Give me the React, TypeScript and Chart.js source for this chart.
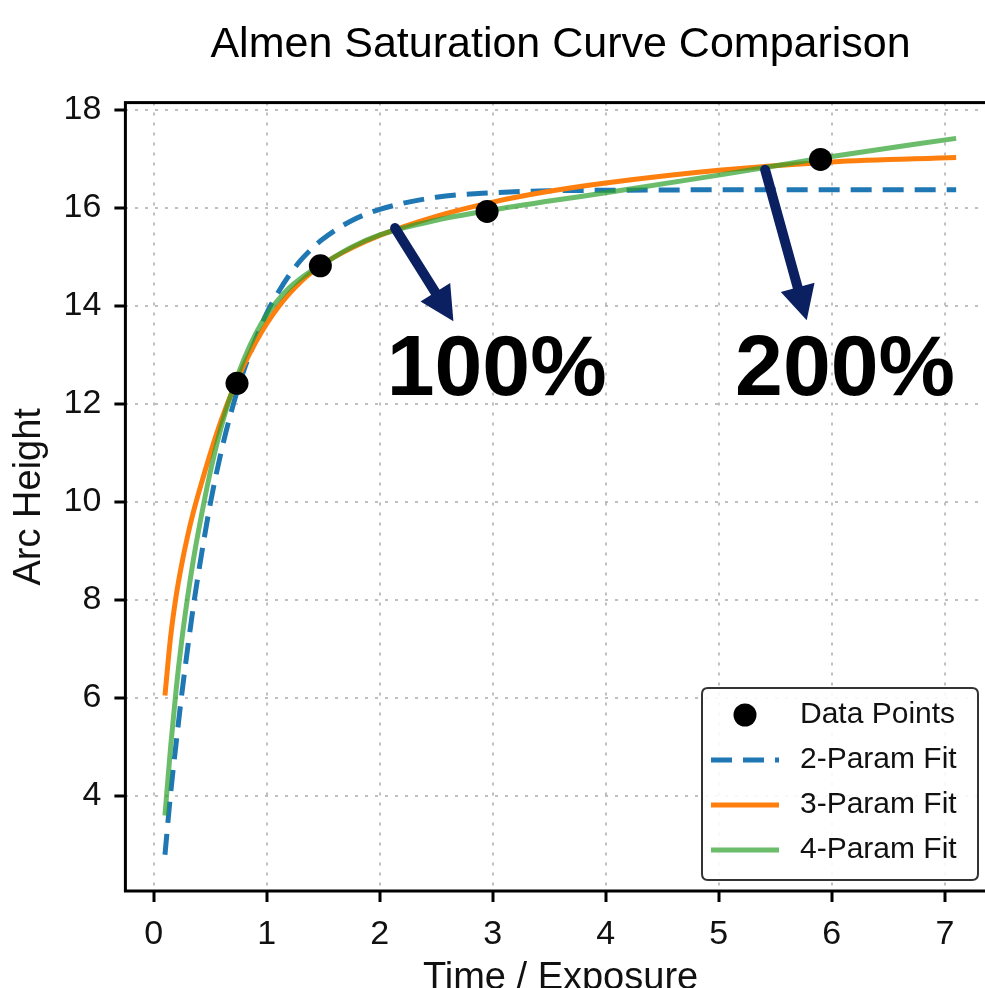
import React, { useEffect, useRef } from 'react';
import { Chart, registerables } from 'chart.js';

Chart.register(...registerables);

const FONT = "'Liberation Sans', Arial, Helvetica, sans-serif";

const TITLE = 'Almen Saturation Curve Comparison';
const X_TITLE = 'Time / Exposure';
const Y_TITLE = 'Arc Height';

const xTicks = [0, 1, 2, 3, 4, 5, 6, 7];
const yTicks = [4, 6, 8, 10, 12, 14, 16, 18];

const dataTimes = [0.7375, 1.475, 2.95, 5.9];
const dataHeights = [12.42, 14.82, 15.93, 16.99];

const fitTimes = [0.1, 0.15, 0.2, 0.25, 0.3, 0.35, 0.4, 0.5, 0.6, 0.7, 0.8, 0.9, 1.0, 1.1, 1.2, 1.3, 1.4, 1.5, 1.75, 2.0, 2.5, 3.0, 3.5, 4.0, 5.0, 6.0, 7.1];
const fit2Param = [2.8, 4.05, 5.1, 6.1, 7.0, 7.85, 8.6, 9.95, 11.05, 11.95, 12.7, 13.3, 13.85, 14.27, 14.63, 14.93, 15.17, 15.37, 15.74, 15.97, 16.22, 16.31, 16.35, 16.36, 16.37, 16.37, 16.37];
const fit3Param = [6.05, 7.25, 8.1, 8.75, 9.3, 9.78, 10.2, 10.98, 11.68, 12.28, 12.8, 13.25, 13.64, 13.97, 14.25, 14.49, 14.69, 14.86, 15.18, 15.44, 15.83, 16.12, 16.34, 16.51, 16.77, 16.94, 17.03];
const fit4Param = [3.6, 5.0, 6.2, 7.2, 8.05, 8.8, 9.45, 10.6, 11.55, 12.3, 12.92, 13.42, 13.82, 14.12, 14.37, 14.56, 14.72, 14.86, 15.2, 15.45, 15.75, 15.96, 16.14, 16.31, 16.67, 17.05, 17.42];

const seriesLabels = ['Data Points', '2-Param Fit', '3-Param Fit', '4-Param Fit'];

const noteLabels = ['100%', '200%'];
const noteTextX = [3.035, 6.117];
const noteTextY = [12.18, 12.18];
const arrowFromX = [2.136, 5.41];
const arrowFromY = [15.59, 16.78];
const arrowToX = [2.652, 5.778];
const arrowToY = [13.69, 13.71];

const ARROW_COLOR = '#0b2060';
const GRID_COLOR = 'rgba(180,180,180,0.85)';

const CANVAS_W = 1121;
const CANVAS_H = 1004;

const overlayPlugin = {
  id: 'overlay',
  afterDatasetsDraw(chart: any) {
    const { ctx, chartArea: a, scales } = chart;
    const xs = scales.x;
    const ys = scales.y;
    ctx.save();
    // frame
    ctx.setLineDash([]);
    ctx.strokeStyle = '#000';
    ctx.lineWidth = 3;
    ctx.strokeRect(a.left, a.top, a.right - a.left, a.bottom - a.top);

    // arrows
    for (let i = 0; i < noteLabels.length; i++) {
      const x0 = xs.getPixelForValue(arrowFromX[i]);
      const y0 = ys.getPixelForValue(arrowFromY[i]);
      const x1 = xs.getPixelForValue(arrowToX[i]);
      const y1 = ys.getPixelForValue(arrowToY[i]);
      const dx = x1 - x0;
      const dy = y1 - y0;
      const len = Math.hypot(dx, dy);
      const ux = dx / len;
      const uy = dy / len;
      const headLen = 34;
      const headHalf = 17.5;
      const bx = x1 - ux * headLen;
      const by = y1 - uy * headLen;
      ctx.strokeStyle = ARROW_COLOR;
      ctx.lineWidth = 10;
      ctx.lineCap = 'round';
      ctx.beginPath();
      ctx.moveTo(x0, y0);
      ctx.lineTo(bx + ux * 3, by + uy * 3);
      ctx.stroke();
      ctx.fillStyle = ARROW_COLOR;
      ctx.beginPath();
      ctx.moveTo(x1, y1);
      ctx.lineTo(bx - uy * headHalf, by + ux * headHalf);
      ctx.lineTo(bx + uy * headHalf, by - ux * headHalf);
      ctx.closePath();
      ctx.fill();
    }

    // big labels
    ctx.fillStyle = '#000';
    ctx.font = `bold 86px ${FONT}`;
    ctx.textAlign = 'center';
    ctx.textBaseline = 'alphabetic';
    for (let i = 0; i < noteLabels.length; i++) {
      ctx.fillText(noteLabels[i], xs.getPixelForValue(noteTextX[i]), ys.getPixelForValue(noteTextY[i]));
    }

    // legend (lower right)
    const boxW = 276;
    const boxH = 192;
    const left = a.right - 17.7 - boxW;
    const top = a.bottom - 11 - boxH;
    ctx.lineCap = 'butt';
    ctx.beginPath();
    const r = 6;
    ctx.moveTo(left + r, top);
    ctx.lineTo(left + boxW - r, top);
    ctx.quadraticCurveTo(left + boxW, top, left + boxW, top + r);
    ctx.lineTo(left + boxW, top + boxH - r);
    ctx.quadraticCurveTo(left + boxW, top + boxH, left + boxW - r, top + boxH);
    ctx.lineTo(left + r, top + boxH);
    ctx.quadraticCurveTo(left, top + boxH, left, top + boxH - r);
    ctx.lineTo(left, top + r);
    ctx.quadraticCurveTo(left, top, left + r, top);
    ctx.closePath();
    ctx.fillStyle = 'rgba(255,255,255,0.9)';
    ctx.fill();
    ctx.strokeStyle = '#333';
    ctx.lineWidth = 2;
    ctx.stroke();

    const datasets = chart.data.datasets;
    const order = [0, 1, 2, 3];
    ctx.font = `30px ${FONT}`;
    ctx.textAlign = 'left';
    ctx.textBaseline = 'middle';
    order.forEach((di, row) => {
      const ds = datasets[di];
      const cy = top + 27 + row * 45;
      const hx0 = left + 9;
      const hx1 = left + 77;
      if (di === 0) {
        ctx.fillStyle = ds.pointBackgroundColor;
        ctx.beginPath();
        ctx.arc((hx0 + hx1) / 2, cy, ds.pointRadius, 0, Math.PI * 2);
        ctx.fill();
      } else {
        ctx.strokeStyle = ds.borderColor;
        ctx.lineWidth = ds.borderWidth;
        ctx.setLineDash(ds.borderDash || []);
        ctx.beginPath();
        ctx.moveTo(hx0, cy);
        ctx.lineTo(hx1, cy);
        ctx.stroke();
        ctx.setLineDash([]);
      }
      ctx.fillStyle = '#111';
      ctx.fillText(ds.label, left + 98, cy);
    });
    ctx.restore();
  },
};

export default function App() {
  const canvasRef = useRef<HTMLCanvasElement | null>(null);

  useEffect(() => {
    if (!canvasRef.current) return;
    Chart.defaults.font.family = FONT;
    const pts = (xs: number[], ys: number[]) => xs.map((x, i) => ({ x, y: ys[i] }));
    const lineDs = (label: string, ys: number[], color: string, width: number, dash: number[], order: number) => ({
      label,
      data: pts(fitTimes, ys),
      showLine: true,
      borderColor: color,
      backgroundColor: color,
      borderWidth: width,
      borderDash: dash,
      borderCapStyle: 'butt',
      pointRadius: 0,
      pointHoverRadius: 0,
      cubicInterpolationMode: 'monotone',
      fill: false,
      order,
    });

    const gridCommon = {
      color: GRID_COLOR,
      lineWidth: 2,
      borderDash: [3, 7],
      tickColor: '#000',
      tickWidth: 3,
      tickLength: 11,
      tickBorderDash: [],
      drawTicks: true,
    };

    const chart = new Chart(canvasRef.current, {
      type: 'scatter',
      data: {
        datasets: [
          {
            label: seriesLabels[0],
            data: pts(dataTimes, dataHeights),
            showLine: false,
            pointRadius: 11.5,
            pointHoverRadius: 11.5,
            pointBackgroundColor: '#000',
            pointBorderWidth: 0,
            borderColor: '#000',
            backgroundColor: '#000',
            order: 0,
          } as any,
          lineDs(seriesLabels[1], fit2Param, '#1f77b4', 5, [21, 11], 3),
          lineDs(seriesLabels[2], fit3Param, '#ff7f0e', 5, [], 2),
          lineDs(seriesLabels[3], fit4Param, 'rgba(44,160,44,0.7)', 5, [], 1),
        ],
      },
      options: {
        animation: false,
        responsive: false,
        devicePixelRatio: 1,
        layout: { padding: { left: 0, right: CANVAS_W - 995.7, top: 0, bottom: 0 } },
        plugins: {
          legend: { display: false },
          tooltip: { enabled: false },
          title: {
            display: true,
            fullSize: false,
            text: TITLE,
            color: '#000',
            font: { family: FONT, size: 43, weight: 'normal' },
            padding: { top: 19, bottom: 32 },
          },
        },
        scales: {
          x: {
            type: 'linear',
            min: -0.25,
            max: 7.45,
            afterBuildTicks: (s: any) => {
              s.ticks = xTicks.map((v) => ({ value: v }));
            },
            afterFit: (s: any) => {
              s.height = 113;
            },
            ticks: {
              color: '#111',
              font: { family: FONT, size: 34 },
              padding: 12,
              maxRotation: 0,
              autoSkip: false,
              callback: (v: any) => String(v),
            },
            grid: gridCommon,
            border: { display: false, dash: [3, 7] },
            title: {
              display: true,
              text: X_TITLE,
              color: '#111',
              font: { family: FONT, size: 38 },
              padding: { top: 0, bottom: 3 },
            },
          },
          y: {
            type: 'linear',
            min: 2.06,
            max: 18.15,
            afterBuildTicks: (s: any) => {
              s.ticks = yTicks.map((v) => ({ value: v }));
            },
            afterFit: (s: any) => {
              s.width = 125.4;
            },
            ticks: {
              color: '#111',
              font: { family: FONT, size: 34 },
              padding: 13,
              autoSkip: false,
              callback: (v: any) => String(v),
            },
            grid: gridCommon,
            border: { display: false, dash: [3, 7] },
            title: {
              display: true,
              text: Y_TITLE,
              color: '#111',
              font: { family: FONT, size: 38 },
              padding: { top: 7, bottom: 0 },
            },
          },
        },
      } as any,
      plugins: [overlayPlugin],
    });
    return () => chart.destroy();
  }, []);

  return (
    <div style={{ position: 'absolute', left: 0, top: 0, width: 985, height: 988, overflow: 'hidden', background: '#fff' }}>
      <canvas ref={canvasRef} width={CANVAS_W} height={CANVAS_H} style={{ width: CANVAS_W, height: CANVAS_H, display: 'block' }} />
    </div>
  );
}
